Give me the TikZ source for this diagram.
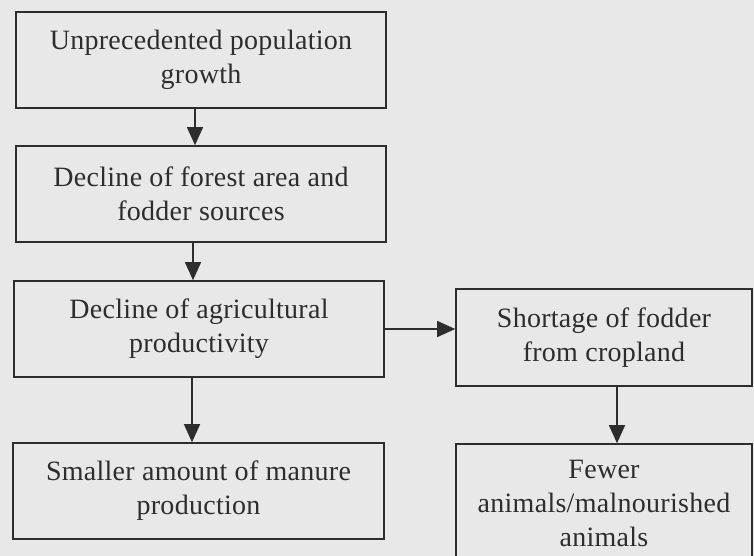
\documentclass[tikz,border=0pt]{standalone}
\usepackage{fontspec}
\setmainfont{Liberation Serif}[LetterSpace=1]
\usetikzlibrary{arrows.meta}
\definecolor{paper}{RGB}{232,232,232}
\definecolor{ink}{RGB}{45,45,45}
\tikzset{
  box/.style={draw=ink, line width=1.6pt, align=center, inner sep=0pt,
    font=\fontsize{28}{34}\selectfont, text=ink},
  arr/.style={draw=ink, line width=1.4pt, -{Triangle[length=18pt,width=16pt]}}
}
\begin{document}
\begin{tikzpicture}[x=1pt,y=-1pt]
\useasboundingbox (0,0) rectangle (754,556);
\fill[paper] (0,0) rectangle (754,556);
\clip (0,0) rectangle (754,556);
\node[box, minimum width=370pt, minimum height=96pt] (b1) at (201,60) {Unprecedented population\\growth};
\node[box, minimum width=370pt, minimum height=96pt] (b2) at (201,194) {Decline of forest area and\\fodder sources};
\node[box, minimum width=370pt, minimum height=96pt] (b3) at (199,329) {Decline of agricultural\\productivity};
\node[box, minimum width=371pt, minimum height=96pt] (b4) at (198.5,491) {Smaller amount of manure\\production};
\node[box, minimum width=296pt, minimum height=97pt] (b5) at (604,337.5) {Shortage of fodder\\from cropland};
\node[box, minimum width=296pt, minimum height=118pt] (b6) at (604,503) {Fewer\\animals/malnourished\\animals};
\draw[arr] ([xshift=-6pt]b1.south) -- ([xshift=-6pt]b2.north);
\draw[arr] ([xshift=-8pt]b2.south) -- ([xshift=-6pt]b3.north);
\draw[arr] ([xshift=-7pt]b3.south) -- ([xshift=-6.5pt]b4.north);
\draw[arr] (b3.east) -- (b5.west |- b3.east);
\draw[arr] ([xshift=13pt]b5.south) -- ([xshift=13pt]b6.north);
\end{tikzpicture}
\end{document}
